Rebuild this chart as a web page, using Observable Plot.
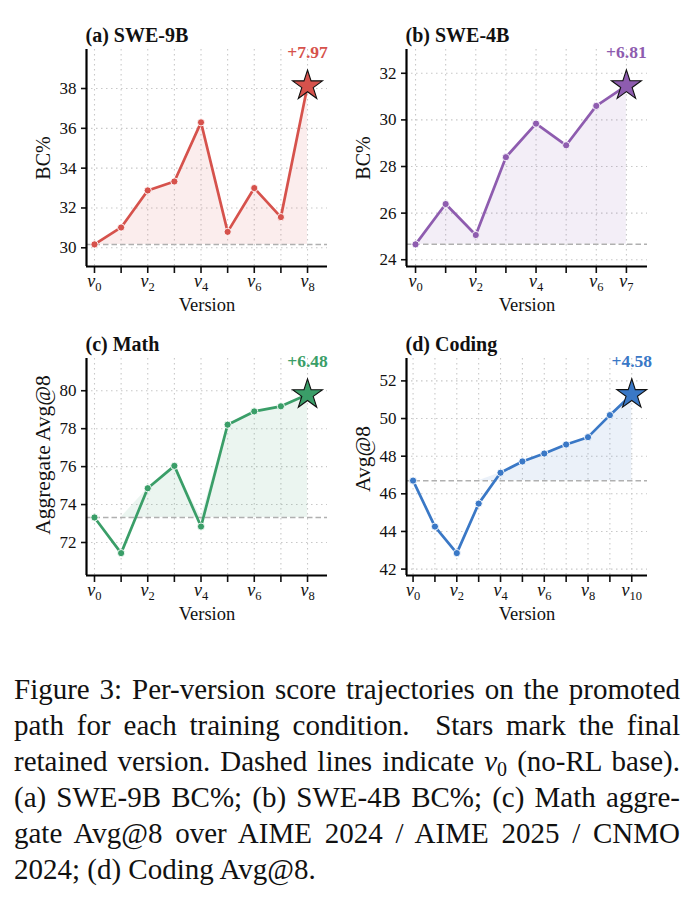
<!DOCTYPE html>
<html>
<head>
<meta charset="utf-8">
<script src="https://cdn.jsdelivr.net/npm/d3@7"></script>
<script src="https://cdn.jsdelivr.net/npm/@observablehq/plot@0.6"></script>
<style>
  html, body { margin: 0; padding: 0; background: #fff; }
  body { width: 692px; height: 901px; overflow: hidden; font-family: "Liberation Serif", "DejaVu Serif", serif; }
  #fig { position: relative; width: 692px; height: 650px; }
  .panel { position: absolute; }
  #caption { position: absolute; left: 14px; top: 671px; width: 666px; font-size: 29px; line-height: 36px; color: #111; }
  #caption div { text-align: justify; text-align-last: justify; white-space: nowrap; }
  #caption div.last { text-align-last: left; }
  #caption i { font-style: italic; }
  #caption sub { font-size: 20px; vertical-align: -5px; line-height: 0; }
</style>
</head>
<body>
<div id="fig"></div>
<div id="caption">
  <div>Figure 3: Per-version score trajectories on the promoted</div>
  <div>path for each training condition.&nbsp; Stars mark the final</div>
  <div>retained version. Dashed lines indicate <i>v</i><sub>0</sub> (no-RL base).</div>
  <div>(a) SWE-9B BC%; (b) SWE-4B BC%; (c) Math aggre-</div>
  <div>gate Avg@8 over AIME 2024 / AIME 2025 / CNMO</div>
  <div class="last">2024; (d) Coding Avg@8.</div>
</div>
<script>
// ---- data ----
const titles = ["(a) SWE-9B", "(b) SWE-4B", "(c) Math", "(d) Coding"];
const yLabels = ["BC%", "BC%", "Aggregate Avg@8", "Avg@8"];
const sweA = [30.17, 31.02, 32.88, 33.33, 36.30, 30.80, 33.00, 31.54, 38.14];
const sweB = [24.66, 26.39, 25.06, 28.40, 29.84, 28.91, 30.60, 31.47];
const mathScores = [73.32, 71.44, 74.86, 76.04, 72.84, 78.21, 78.91, 79.18, 79.80];
const codingScores = [46.70, 44.26, 42.85, 45.48, 47.12, 47.72, 48.14, 48.62, 49.01, 50.18, 51.28];
const deltas = ["+7.97", "+6.81", "+6.48", "+4.58"];
const xTickLabelsA = [0, 2, 4, 6, 8];
const xTickLabelsB = [0, 2, 4, 6, 7];
const xTickLabelsC = [0, 2, 4, 6, 8];
const xTickLabelsD = [0, 2, 4, 6, 8, 10];
const yTicksA = [30, 32, 34, 36, 38];
const yTicksB = [24, 26, 28, 30, 32];
const yTicksC = [72, 74, 76, 78, 80];
const yTicksD = [42, 44, 46, 48, 50, 52];
const colors = ["#d6524c", "#8e5caf", "#3a9e68", "#3a78c6"];

const panels = [
  {values: sweA, labels: xTickLabelsA, yTicks: yTicksA, xDom: [-0.3, 8.75], yDom: [29.06, 39.96], left: 0, top: 0, ylabSize: 20, ylabDy: 0},
  {values: sweB, labels: xTickLabelsB, yTicks: yTicksB, xDom: [-0.3, 7.7], yDom: [23.71, 33.02], left: 320, top: 0, ylabSize: 20, ylabDy: 0},
  {values: mathScores, labels: xTickLabelsC, yTicks: yTicksC, xDom: [-0.3, 8.75], yDom: [70.26, 81.7], left: 0, top: 309.3, ylabSize: 21.5, ylabDy: -12},
  {values: codingScores, labels: xTickLabelsD, yTicks: yTicksD, xDom: [-0.3, 10.72], yDom: [41.66, 53.19], left: 320, top: 309.3, ylabSize: 21.5, ylabDy: -8}
];

const fig = document.getElementById("fig");
const font = "Liberation Serif";

panels.forEach((p, k) => {
  const color = colors[k];
  const data = p.values.map((v, i) => ({i, v}));
  const base = p.values[0];
  const last = data[data.length - 1];
  const body = data.slice(0, -1);
  const xTicks = d3.range(0, p.values.length);

  const svg = Plot.plot({
    width: 346,
    height: 325,
    marginLeft: 86,
    marginRight: 19,
    marginTop: 49,
    marginBottom: 59,
    style: {fontFamily: font, fontSize: "17px", color: "#111", background: "transparent", overflow: "visible"},
    x: {domain: p.xDom, axis: null},
    y: {domain: p.yDom, axis: null},
    marks: [
      Plot.gridX(xTicks, {stroke: "#c8c8c8", strokeOpacity: 1, strokeWidth: 1.1, strokeDasharray: "1.5,3.5"}),
      Plot.gridY(p.yTicks, {stroke: "#c8c8c8", strokeOpacity: 1, strokeWidth: 1.1, strokeDasharray: "1.5,3.5"}),
      Plot.areaY(data, {x: "i", y1: () => base, y2: d => Math.max(d.v, base), fill: color, fillOpacity: 0.1}),
      Plot.ruleY([base], {stroke: "#b0b0b0", strokeWidth: 1.5, strokeDasharray: "5.5,3"}),
      Plot.line(data, {x: "i", y: "v", stroke: color, strokeWidth: 2.7}),
      Plot.dot(body, {x: "i", y: "v", r: 3.6, fill: color, stroke: "#fff", strokeWidth: 0.9}),
      Plot.dot([last], {x: "i", y: "v", symbol: "star", r: 9.4, fill: color, stroke: "#111", strokeWidth: 1.1}),
      Plot.text([last], {x: "i", y: "v", text: () => deltas[k], dy: -33, lineAnchor: "middle", fill: color, fontWeight: "bold", fontSize: 17.5}),
      Plot.axisX(xTicks, {tickSize: 7, tickPadding: 1, strokeWidth: 1.6, fontSize: 17, label: null,
        tickFormat: d => p.labels.includes(d) ? "v" + d : ""}),
      Plot.axisY(p.yTicks, {tickSize: 5, tickPadding: 5, strokeWidth: 1.6, fontSize: 17, label: null}),
      Plot.ruleX([p.xDom[0]], {stroke: "#000", strokeWidth: 2.2}),
      Plot.ruleY([p.yDom[0]], {stroke: "#000", strokeWidth: 2.2}),
      Plot.text([titles[k]], {frameAnchor: "top-left", dy: -14, dx: -1, lineAnchor: "middle", textAnchor: "start", fontWeight: "bold", fontSize: 20}),
      Plot.text([yLabels[k]], {frameAnchor: "left", dx: -43, dy: p.ylabDy, lineAnchor: "middle", textAnchor: "middle", rotate: -90, fontSize: p.ylabSize}),
      Plot.text(["Version"], {frameAnchor: "bottom", dy: 39, lineAnchor: "middle", textAnchor: "middle", fontSize: 18.5})
    ]
  });

  // subscripted, italic version tick labels
  svg.querySelectorAll('[aria-label="x-axis tick label"] text').forEach(el => {
    const t = el.textContent;
    if (!t.startsWith("v")) return;
    const n = t.slice(1);
    el.textContent = "";
    const ns = "http://www.w3.org/2000/svg";
    const a = document.createElementNS(ns, "tspan");
    a.setAttribute("font-style", "italic");
    a.setAttribute("font-size", "18");
    a.textContent = "v";
    const b = document.createElementNS(ns, "tspan");
    b.setAttribute("dy", "4");
    b.setAttribute("font-size", "12.5");
    b.textContent = n;
    el.appendChild(a);
    el.appendChild(b);
  });

  const wrap = document.createElement("div");
  wrap.className = "panel";
  wrap.style.left = p.left + "px";
  wrap.style.top = p.top + "px";
  wrap.appendChild(svg);
  fig.appendChild(wrap);
});
</script>
</body>
</html>
